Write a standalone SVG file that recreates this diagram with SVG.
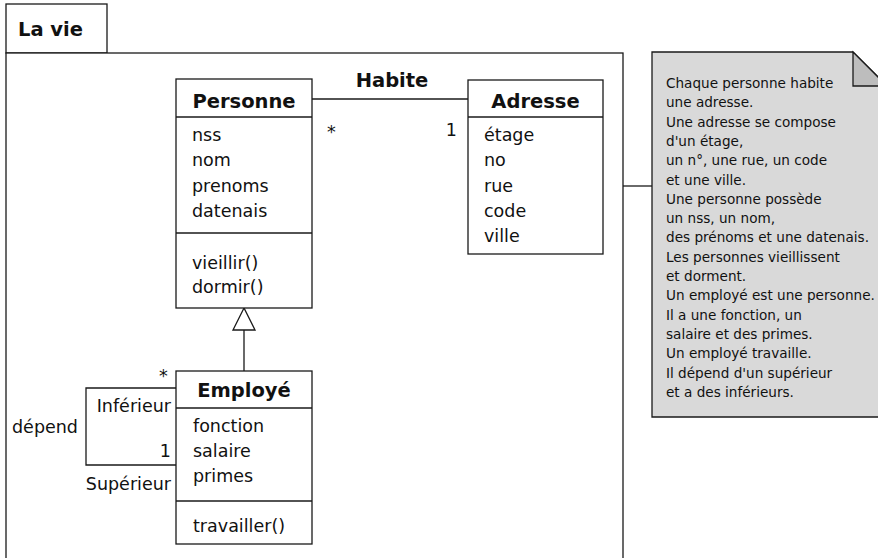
<svg xmlns="http://www.w3.org/2000/svg" width="878" height="558" viewBox="0 0 878 558">
  <style>
    .box { fill: #ffffff; stroke: #1a1a1a; stroke-width: 1.3; }
    .ln { fill: none; stroke: #1a1a1a; stroke-width: 1.3; }
    .title { font-family: "DejaVu Sans", "Liberation Sans", sans-serif; font-weight: bold; font-size: 19.5px; fill: #111; }
    .txt { font-family: "DejaVu Sans", "Liberation Sans", sans-serif; font-size: 17.5px; fill: #111; }
    .mid { text-anchor: middle; }
    .end { text-anchor: end; }
    .note { font-family: "DejaVu Sans", "Liberation Sans", sans-serif; font-size: 13.6px; fill: #111; }
  </style>

  <!-- package "La vie" -->
  <g id="package">
    <rect class="box" x="6" y="4" width="101" height="49"/>
    <rect class="box" x="6" y="53" width="617" height="560"/>
    <text class="title" x="18" y="36" font-size="19">La vie</text>
  </g>

  <!-- connectors -->
  <g id="connectors">
    <!-- Habite association -->
    <line class="ln" x1="312" y1="99" x2="468" y2="99"/>
    <text class="title mid" x="392" y="87">Habite</text>
    <text class="txt" x="327" y="138">*</text>
    <text class="txt end" x="457" y="136">1</text>
    <!-- generalization Employé -> Personne -->
    <line class="ln" x1="244" y1="330" x2="244" y2="371"/>
    <polygon class="box" points="244,308 233,330 255,330"/>
    <!-- self association "dépend" -->
    <polyline class="ln" points="176,388 86,388 86,465 176,465"/>
    <text class="txt" x="159" y="382">*</text>
    <text class="txt end" x="171" y="412">Inférieur</text>
    <text class="txt" x="12" y="433">dépend</text>
    <text class="txt end" x="171" y="457">1</text>
    <text class="txt end" x="171" y="490">Supérieur</text>
    <!-- note anchor -->
    <line class="ln" x1="623" y1="186" x2="652" y2="186"/>
  </g>

  <g id="personne">
    <rect class="box" x="176" y="79" width="136" height="229"/>
    <line class="ln" x1="176" y1="117" x2="312" y2="117"/>
    <line class="ln" x1="176" y1="233" x2="312" y2="233"/>
    <text class="title mid" x="244" y="108">Personne</text>
    <text class="txt" x="192" y="141">nss</text>
    <text class="txt" x="192" y="166">nom</text>
    <text class="txt" x="192" y="192">prenoms</text>
    <text class="txt" x="192" y="217">datenais</text>
    <text class="txt" x="192" y="269">vieillir()</text>
    <text class="txt" x="192" y="293">dormir()</text>
  </g>

  <g id="adresse">
    <rect class="box" x="468" y="80" width="135" height="174"/>
    <line class="ln" x1="468" y1="117" x2="603" y2="117"/>
    <text class="title mid" x="535.5" y="108">Adresse</text>
    <text class="txt" x="484" y="141">étage</text>
    <text class="txt" x="484" y="166">no</text>
    <text class="txt" x="484" y="192">rue</text>
    <text class="txt" x="484" y="217">code</text>
    <text class="txt" x="484" y="242">ville</text>
  </g>

  <g id="employe">
    <rect class="box" x="176" y="371" width="136" height="173"/>
    <line class="ln" x1="176" y1="408" x2="312" y2="408"/>
    <line class="ln" x1="176" y1="501" x2="312" y2="501"/>
    <text class="title mid" x="244" y="397">Employé</text>
    <text class="txt" x="193" y="432">fonction</text>
    <text class="txt" x="193" y="457">salaire</text>
    <text class="txt" x="193" y="482">primes</text>
    <text class="txt" x="193" y="532">travailler()</text>
  </g>

  <g id="note">
    <path d="M652,52 H853 L887,86 V417 H652 Z" fill="#d9d9d9" stroke="#1a1a1a" stroke-width="1.3"/>
    <path d="M853,52 V86 H887 Z" fill="#bdbdbd" stroke="#1a1a1a" stroke-width="1.3"/>
    <text class="note">
      <tspan x="666" y="88">Chaque personne habite</tspan>
      <tspan x="666" y="107.3">une adresse.</tspan>
      <tspan x="666" y="126.6">Une adresse se compose</tspan>
      <tspan x="666" y="145.9">d'un étage,</tspan>
      <tspan x="666" y="165.2">un n°, une rue, un code</tspan>
      <tspan x="666" y="184.5">et une ville.</tspan>
      <tspan x="666" y="203.8">Une personne possède</tspan>
      <tspan x="666" y="223.1">un nss, un nom,</tspan>
      <tspan x="666" y="242.4">des prénoms et une datenais.</tspan>
      <tspan x="666" y="261.7">Les personnes vieillissent</tspan>
      <tspan x="666" y="281">et dorment.</tspan>
      <tspan x="666" y="300.3">Un employé est une personne.</tspan>
      <tspan x="666" y="319.6">Il a une fonction, un</tspan>
      <tspan x="666" y="338.9">salaire et des primes.</tspan>
      <tspan x="666" y="358.2">Un employé travaille.</tspan>
      <tspan x="666" y="377.5">Il dépend d'un supérieur</tspan>
      <tspan x="666" y="396.8">et a des inférieurs.</tspan>
    </text>
  </g>
</svg>
